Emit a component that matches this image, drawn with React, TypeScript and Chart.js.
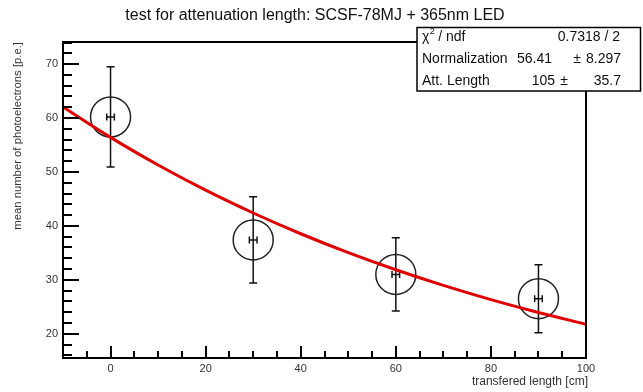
import React, { useEffect, useRef } from 'react';
import { Chart, registerables } from 'chart.js';

Chart.register(...registerables);

const TITLE = 'test for attenuation length: SCSF-78MJ + 365nm LED';
const X_TITLE = 'transfered length [cm]';
const Y_TITLE = 'mean number of photoelectrons [p.e.]';

// measured points
const pointX = [0, 30, 60, 90];
const pointY = [60.2, 37.4, 31.0, 26.5];
const pointYErr = [9.3, 8.0, 6.8, 6.3];
const pointXErr = [0.8, 0.8, 0.8, 0.8];

// fit curve samples
const fitX = [-10, 0, 10, 20, 30, 40, 50, 60, 70, 80, 90, 100];
const fitY = [62.05, 56.41, 51.29, 46.62, 42.39, 38.54, 35.04, 31.86, 28.96, 26.33, 23.94, 21.76];

// axes
const X_MIN = -10;
const X_MAX = 100;
const Y_MIN = 15.5;
const Y_MAX = 74.1;
const xMajorTicks = [0, 20, 40, 60, 80, 100];
const xMinorTicks = [-5, 5, 10, 15, 25, 30, 35, 45, 50, 55, 65, 70, 75, 85, 90, 95];
const yMajorTicks = [20, 30, 40, 50, 60, 70];
const yMinorTicks = [16, 18, 22, 24, 26, 28, 32, 34, 36, 38, 42, 44, 46, 48, 52, 54, 56, 58, 62, 64, 66, 68, 72, 74];

// stats box
const statsLabels = ['/ ndf', 'Normalization', 'Att. Length'];
const statsChi2 = '0.7318 / 2';
const statsNorm = ['56.41', '8.297'];
const statsAtt = ['105', '35.7'];

const FONT = '"Liberation Sans", Arial, Helvetica, sans-serif';

const rootPlugin = {
  id: 'rootStyle',
  beforeDatasetsDraw(chart: any) {
    const ctx = chart.ctx;
    const xs = chart.scales.x;
    const ys = chart.scales.y;
    ctx.save();
    ctx.strokeStyle = '#111';
    ctx.lineWidth = 1.5;
    for (let i = 0; i < pointX.length; i++) {
      const px = xs.getPixelForValue(pointX[i]);
      const py = ys.getPixelForValue(pointY[i]);
      const pt = ys.getPixelForValue(pointY[i] + pointYErr[i]);
      const pb = ys.getPixelForValue(pointY[i] - pointYErr[i]);
      const pl = xs.getPixelForValue(pointX[i] - pointXErr[i]);
      const pr = xs.getPixelForValue(pointX[i] + pointXErr[i]);
      ctx.beginPath();
      ctx.moveTo(px, pt);
      ctx.lineTo(px, pb);
      ctx.moveTo(px - 4, pt);
      ctx.lineTo(px + 4, pt);
      ctx.moveTo(px - 4, pb);
      ctx.lineTo(px + 4, pb);
      ctx.moveTo(pl, py);
      ctx.lineTo(pr, py);
      ctx.moveTo(pl, py - 3.5);
      ctx.lineTo(pl, py + 3.5);
      ctx.moveTo(pr, py - 3.5);
      ctx.lineTo(pr, py + 3.5);
      ctx.stroke();
    }
    ctx.restore();
  },
  afterDraw(chart: any) {
    const ctx = chart.ctx;
    const xs = chart.scales.x;
    const ys = chart.scales.y;
    const a = chart.chartArea;
    ctx.save();
    // frame
    ctx.strokeStyle = '#000';
    ctx.lineWidth = 2;
    ctx.strokeRect(a.left, a.top, a.right - a.left, a.bottom - a.top);
    // ticks
    ctx.beginPath();
    for (const v of yMajorTicks) {
      const y = Math.round(ys.getPixelForValue(v));
      ctx.moveTo(a.left, y);
      ctx.lineTo(a.left + 16, y);
    }
    for (const v of yMinorTicks) {
      const y = Math.round(ys.getPixelForValue(v));
      ctx.moveTo(a.left, y);
      ctx.lineTo(a.left + 9, y);
    }
    for (const v of xMajorTicks) {
      const x = Math.round(xs.getPixelForValue(v));
      ctx.moveTo(x, a.bottom);
      ctx.lineTo(x, a.bottom - 12);
    }
    for (const v of xMinorTicks) {
      const x = Math.round(xs.getPixelForValue(v));
      ctx.moveTo(x, a.bottom);
      ctx.lineTo(x, a.bottom - 7);
    }
    ctx.stroke();
    // tick labels
    ctx.fillStyle = '#333';
    ctx.font = `11px ${FONT}`;
    ctx.textAlign = 'right';
    ctx.textBaseline = 'middle';
    for (const v of yMajorTicks) {
      ctx.fillText(String(v), a.left - 5, ys.getPixelForValue(v));
    }
    ctx.textAlign = 'center';
    ctx.textBaseline = 'top';
    for (const v of xMajorTicks) {
      ctx.fillText(String(v), xs.getPixelForValue(v), a.bottom + 5);
    }
    // axis titles
    ctx.font = `12px ${FONT}`;
    ctx.textAlign = 'right';
    ctx.textBaseline = 'middle';
    ctx.fillText(X_TITLE, a.right + 2, 382);
    ctx.save();
    ctx.font = `11.3px ${FONT}`;
    ctx.translate(18, a.top);
    ctx.rotate(-Math.PI / 2);
    ctx.textAlign = 'right';
    ctx.fillText(Y_TITLE, 0, 0);
    ctx.restore();
    // title
    ctx.fillStyle = '#111';
    ctx.font = `16px ${FONT}`;
    ctx.textAlign = 'center';
    ctx.textBaseline = 'middle';
    ctx.fillText(TITLE, 315, 16);
    // stats box
    const bx = 417, by = 27.5, bw = 223.5, bh = 63.5;
    ctx.fillStyle = '#fff';
    ctx.fillRect(bx, by, bw, bh);
    ctx.strokeStyle = '#000';
    ctx.lineWidth = 1.5;
    ctx.strokeRect(bx, by, bw, bh);
    ctx.fillStyle = '#111';
    ctx.font = `14px ${FONT}`;
    ctx.textBaseline = 'middle';
    const rows = [37, 59.5, 81];
    ctx.textAlign = 'left';
    ctx.fillText('\u03C7', 422, rows[0]);
    const chiW = ctx.measureText('\u03C7').width;
    ctx.font = `9px ${FONT}`;
    ctx.fillText('2', 422 + chiW + 0.5, rows[0] - 5);
    ctx.font = `14px ${FONT}`;
    ctx.fillText(' ' + statsLabels[0], 422 + chiW + 5, rows[0]);
    ctx.fillText(statsLabels[1], 422, rows[1]);
    ctx.fillText(statsLabels[2], 422, rows[2]);
    ctx.textAlign = 'right';
    ctx.fillText(statsChi2, 620, rows[0]);
    ctx.fillText(statsNorm[0], 552, rows[1]);
    ctx.fillText(statsNorm[1], 621, rows[1]);
    ctx.fillText(statsAtt[0], 555, rows[2]);
    ctx.fillText(statsAtt[1], 621, rows[2]);
    ctx.textAlign = 'center';
    ctx.fillText('\u00B1', 577, rows[1]);
    ctx.fillText('\u00B1', 564, rows[2]);
    ctx.restore();
  },
};

export default function App() {
  const ref = useRef<HTMLCanvasElement | null>(null);
  useEffect(() => {
    if (!ref.current) return;
    const chart = new Chart(ref.current, {
      type: 'scatter',
      data: {
        datasets: [
          {
            type: 'line',
            label: 'fit',
            data: fitX.map((x, i) => ({ x, y: fitY[i] })),
            borderColor: 'rgb(225,0,0)',
            borderWidth: 3,
            pointRadius: 0,
            fill: false,
            cubicInterpolationMode: 'monotone',
            order: 0,
          } as any,
          {
            type: 'scatter',
            label: 'data',
            data: pointX.map((x, i) => ({ x, y: pointY[i] })),
            pointStyle: 'circle',
            pointRadius: 20,
            pointHoverRadius: 20,
            borderColor: '#222',
            borderWidth: 1.5,
            backgroundColor: 'rgba(0,0,0,0)',
            order: 1,
          } as any,
        ],
      },
      options: {
        animation: false,
        responsive: false,
        events: [],
        layout: { padding: { left: 63, right: 57, top: 42, bottom: 34 } },
        plugins: { legend: { display: false }, tooltip: { enabled: false }, title: { display: false } },
        scales: {
          x: { type: 'linear', min: X_MIN, max: X_MAX, display: false },
          y: { type: 'linear', min: Y_MIN, max: Y_MAX, display: false },
        },
      },
      plugins: [rootPlugin],
    });
    return () => chart.destroy();
  }, []);
  return (
    <div style={{ position: 'fixed', left: 0, top: 0, width: 643, height: 392, background: '#fff' }}>
      <canvas ref={ref} width={643} height={392} style={{ width: 643, height: 392 }} />
    </div>
  );
}
